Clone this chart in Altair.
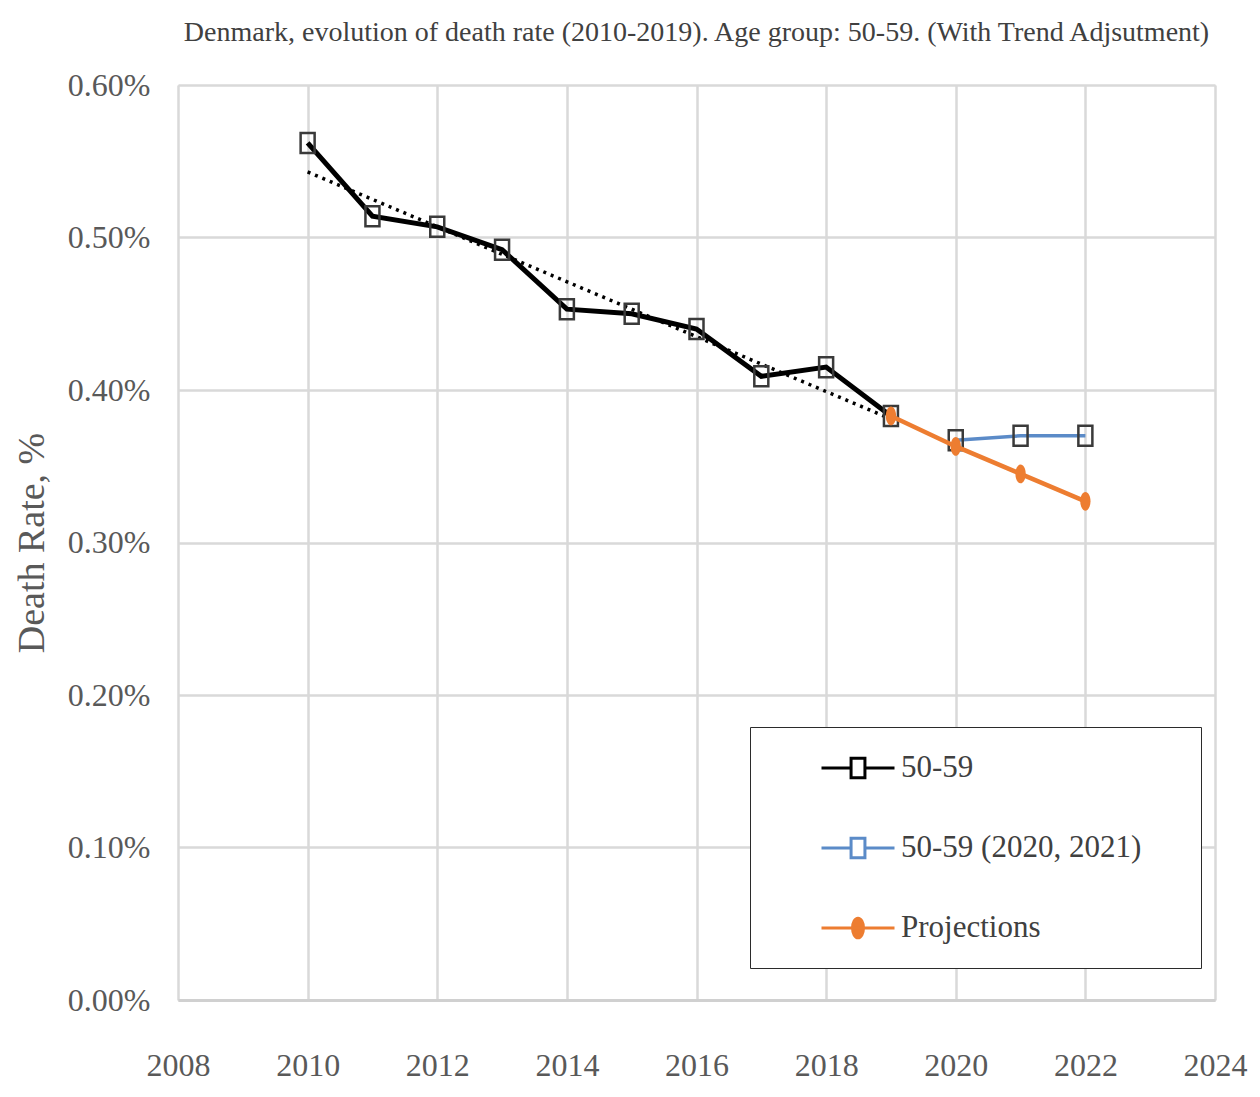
import altair as alt
import pandas as pd

# ---- data ----
years = [2010, 2011, 2012, 2013, 2014, 2015, 2016, 2017, 2018, 2019]
rate_50_59 = [0.562, 0.514, 0.507, 0.492, 0.453, 0.450, 0.440, 0.409, 0.415, 0.383]

years_covid = [2020, 2021, 2022]
rate_covid = [0.367, 0.370, 0.370]

years_proj = [2019, 2020, 2021, 2022]
rate_proj = [0.383, 0.363, 0.345, 0.327]

trend_years = [2010, 2019]
trend_rate = [0.543, 0.381]

series_names = ["50-59", "50-59 (2020, 2021)", "Projections"]
x_ticks = [2008, 2010, 2012, 2014, 2016, 2018, 2020, 2022, 2024]
y_ticks = [0.0, 0.1, 0.2, 0.3, 0.4, 0.5, 0.6]

TITLE = "Denmark, evolution of death rate (2010-2019). Age group: 50-59. (With Trend Adjsutment)"

FONT = "Liberation Serif"
BLACK = "#000000"
BLUE = "#5B8BC8"
ORANGE = "#ED7D31"
MARKER_EDGE = "#3a3a3a"

# marker shapes (tall, as in the reference)
TALL_SQUARE = "M-0.7,-1H0.7V1H-0.7Z"
TALL_DOT = "M0.55,0A0.55,1,0,1,1,-0.55,0A0.55,1,0,1,1,0.55,0Z"
LEG_SQ = "M-1,0H-0.19M0.19,0H1M-0.19,-0.27H0.19V0.27H-0.19Z"
LEG_DOT = "M-1,0H1M0.15,0A0.15,0.27,0,1,1,-0.15,0A0.15,0.27,0,1,1,0.15,0Z"

df_main = pd.DataFrame({"year": years, "rate": rate_50_59})
df_covid = pd.DataFrame({"year": years_covid, "rate": rate_covid})
df_proj = pd.DataFrame({"year": years_proj, "rate": rate_proj})
df_trend = pd.DataFrame({"year": trend_years, "rate": trend_rate})
df_leg = pd.DataFrame({
    "series": series_names,
    "year": [years[0], years_covid[0], years_proj[0]],
    "rate": [rate_50_59[0], rate_covid[0], rate_proj[0]],
})

x_enc = alt.X(
    "year:Q",
    scale=alt.Scale(domain=[2008, 2024], nice=False, zero=False),
    axis=alt.Axis(
        values=x_ticks, format="d", title=None, ticks=False, labelFlush=False,
        labelFont=FONT, labelFontSize=32, labelColor="#595959",
        labelPadding=50, grid=True, gridColor="#d9d9d9", gridWidth=2.5,
        domain=True, domainColor="#d0d0d0", domainWidth=3,
    ),
)
y_enc = alt.Y(
    "rate:Q",
    scale=alt.Scale(domain=[0, 0.6], nice=False),
    axis=alt.Axis(
        values=y_ticks, labelExpr="format(datum.value, '.2f') + '%'",
        title="Death Rate, %", titleFont=FONT, titleFontSize=38,
        titleFontWeight="normal", titleColor="#595959", titlePadding=16,
        ticks=False, domain=False, labelFont=FONT, labelFontSize=32,
        labelColor="#595959", labelPadding=28,
        grid=True, gridColor="#d9d9d9", gridWidth=2.5,
    ),
)

black_line = alt.Chart(df_main).mark_line(color=BLACK, strokeWidth=5).encode(x=x_enc, y=y_enc)
trend_line = alt.Chart(df_trend).mark_line(
    color=BLACK, strokeWidth=3.5, strokeDash=[3, 5]
).encode(x=x_enc, y=y_enc)
blue_line = alt.Chart(df_covid).mark_line(color=BLUE, strokeWidth=3.5).encode(x=x_enc, y=y_enc)
blue_pts = alt.Chart(df_covid).mark_point(
    shape=TALL_SQUARE, size=400, filled=False, stroke=MARKER_EDGE, strokeWidth=2.5, opacity=1
).encode(x=x_enc, y=y_enc)
black_pts = alt.Chart(df_main).mark_point(
    shape=TALL_SQUARE, size=400, filled=False, stroke=MARKER_EDGE, strokeWidth=2.5, opacity=1
).encode(x=x_enc, y=y_enc)
orange_line = alt.Chart(df_proj).mark_line(color=ORANGE, strokeWidth=4.5).encode(x=x_enc, y=y_enc)
orange_pts = alt.Chart(df_proj).mark_point(
    shape=TALL_DOT, size=350, filled=True, color=ORANGE, opacity=1
).encode(x=x_enc, y=y_enc)

BLANK = "\u2800"
leg = alt.Legend(
    title=[BLANK] * 6, titleOrient="left", titleAnchor="start", titlePadding=44,
    titleFontSize=31, titleLineHeight=41, titleFont=FONT,
    orient="none", legendX=572, legendY=642, padding=3,
    symbolSize=5329, symbolStrokeWidth=3, symbolOpacity=1,
    labelFont=FONT, labelFontSize=31, labelColor="#404040", labelOffset=5,
    labelLimit=0, labelExpr="datum.label + '" + BLANK + "\u2004" + BLANK + "'",
    rowPadding=26, fillColor="white", strokeColor="#2b2b2b",
)
legend_layer = alt.Chart(df_leg).mark_point(size=0, filled=True).encode(
    x=x_enc, y=y_enc,
    fill=alt.Fill("series:N", scale=alt.Scale(domain=series_names, range=["white", "white", ORANGE]), legend=leg),
    stroke=alt.Stroke("series:N", scale=alt.Scale(domain=series_names, range=[BLACK, BLUE, ORANGE]), legend=leg),
    shape=alt.Shape("series:N", scale=alt.Scale(domain=series_names, range=[LEG_SQ, LEG_SQ, LEG_DOT]), legend=leg),
)

chart = alt.layer(
    black_line, trend_line, blue_line, blue_pts, black_pts, orange_line, orange_pts, legend_layer
).properties(
    width=1037, height=915,
    title=alt.TitleParams(TITLE, font=FONT, fontSize=28, fontWeight="normal",
                          color="#404040", anchor="middle", offset=22),
    autosize=alt.AutoSizeParams(type="none"),
    padding={"left": 170, "top": 77, "right": 34, "bottom": 85},
).configure_view(stroke=None).configure_legend(strokeWidth=3).configure(background="white")

chart.save("out.html", embed_options={"renderer": "svg", "actions": False})
